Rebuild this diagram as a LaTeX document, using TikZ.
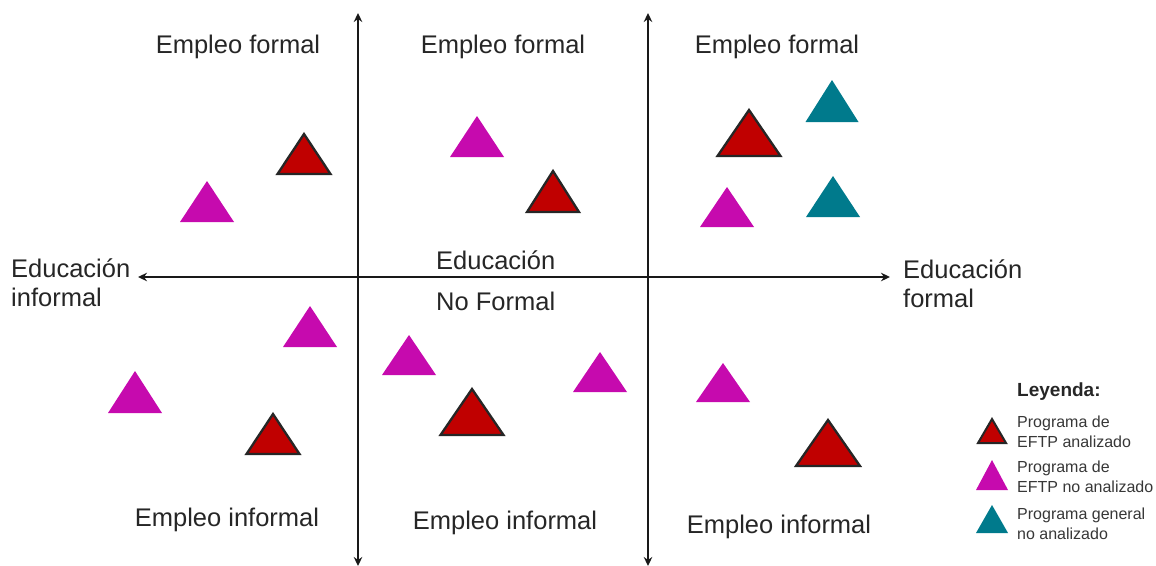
\documentclass[tikz,border=0pt]{standalone}
\usepackage{fontspec}
\setmainfont{Liberation Sans}
\usetikzlibrary{arrows.meta}
\definecolor{tred}{RGB}{192,0,0}
\definecolor{tmag}{RGB}{198,10,174}
\definecolor{tteal}{RGB}{0,122,140}
\definecolor{legtext}{RGB}{55,55,55}
\newcommand\mytri[5]{\path[#1] (#2,#3) -- ({#2-#4},#5) -- ({#2+#4},#5) -- cycle;}
\tikzset{
  axis/.style={line width=2.5pt, draw=black!90, {Stealth[length=9pt,width=8.5pt]}-{Stealth[length=9pt,width=8.5pt]}},
  lbl/.style={font=\fontsize{25.5}{29}\selectfont, align=left, inner sep=0pt, text=black!85},
  leg/.style={font=\fontsize{16}{19.5}\selectfont, align=left, inner sep=0pt, anchor=west, text=legtext},
  redtri/.style={fill=tred, draw=black!85, line width=2.3pt, line join=miter},
  magtri/.style={fill=tmag},
  tealtri/.style={fill=tteal}
}
\begin{document}
\begin{tikzpicture}[x=1pt,y=-1pt]
\useasboundingbox (0,0) rectangle (1156,565);
% axes
\coordinate (v1t) at (358,13);
\coordinate (v1b) at (358,566);
\coordinate (v2t) at (648,13);
\coordinate (v2b) at (648,566);
\coordinate (hl) at (138,277);
\coordinate (hr) at (890,277);
\draw[axis] (v1t) -- (v1b);
\draw[axis] (v2t) -- (v2b);
\draw[axis] (hl) -- (hr);
% labels
\node[lbl] (ef1) at (238,47) {Empleo formal};
\node[lbl] (ef2) at (503,47) {Empleo formal};
\node[lbl] (ef3) at (777,47) {Empleo formal};
\node[lbl] (ei1) at (227,520) {Empleo informal};
\node[lbl] (ei2) at (505,523) {Empleo informal};
\node[lbl] (ei3) at (779,527) {Empleo informal};
\node[lbl, anchor=west] (eil) at (11,283) {Educación\\informal};
\node[lbl, anchor=west] (efr) at (903,284) {Educación\\formal};
\node[lbl, anchor=west] (enf1) at (436,260) {Educación};
\node[lbl, anchor=west] (enf2) at (436,301) {No Formal};
% red triangles
\mytri{redtri}{304}{134}{26.5}{174}
\mytri{redtri}{553}{171}{26}{212}
\mytri{redtri}{749}{110}{31.5}{156}
\mytri{redtri}{273}{414}{26.5}{454}
\mytri{redtri}{472}{389}{31.5}{435}
\mytri{redtri}{828}{420}{32}{466}
% magenta triangles
\mytri{magtri}{207}{181}{27}{222}
\mytri{magtri}{477}{116}{27}{157}
\mytri{magtri}{727}{187}{27}{227}
\mytri{magtri}{310}{306}{27}{347}
\mytri{magtri}{135}{371}{27}{413}
\mytri{magtri}{409}{335}{27}{375}
\mytri{magtri}{600}{352}{27}{392}
\mytri{magtri}{723}{363}{27}{402}
% teal triangles
\mytri{tealtri}{832}{80}{26.5}{122}
\mytri{tealtri}{833}{176}{27}{217}
% legend
\node[leg, font=\fontsize{19}{22}\selectfont\bfseries, text=black!85] (leyenda) at (1017,392) {Leyenda:};
\mytri{redtri, line width=2pt}{992}{419}{14}{443}
\mytri{magtri}{992}{460}{16}{490}
\mytri{tealtri}{992}{505}{16}{533}
\node[leg] (l1) at (1017,432) {Programa de\\EFTP analizado};
\node[leg] (l2) at (1017,477) {Programa de\\EFTP no analizado};
\node[leg] (l3) at (1017,524) {Programa general\\no analizado};
\end{tikzpicture}
\end{document}
